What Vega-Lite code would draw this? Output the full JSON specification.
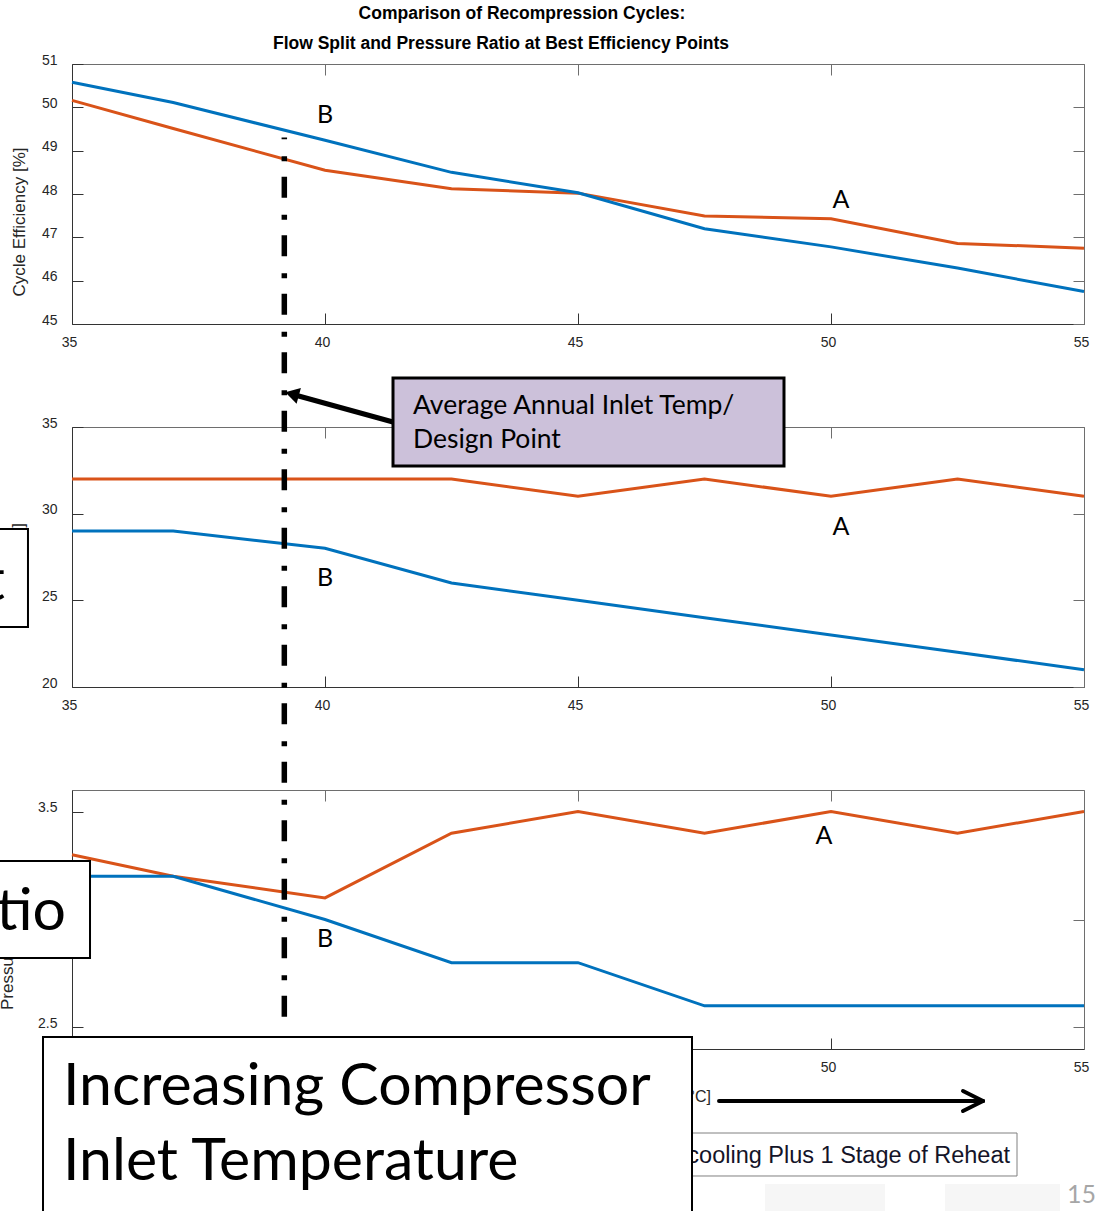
{
  "$schema": "https://vega.github.io/schema/vega-lite/v6.json",
  "width": 1096,
  "height": 1211,
  "padding": 0,
  "autosize": "none",
  "background": "white",
  "config": {
    "view": {"stroke": null},
    "axis": {
      "grid": false,
      "labelFont": "Liberation Sans",
      "labelFontSize": 14,
      "labelColor": "#262626",
      "labelFlush": false,
      "labelOverlap": false,
      "domainColor": "#333",
      "tickColor": "#333",
      "domainWidth": 1,
      "tickWidth": 1,
      "tickSize": -11
    }
  },
  "datasets": {
    "curves": [
      {"panel": 1, "cycle": "A", "temp": 35, "value": 50.16},
      {"panel": 1, "cycle": "A", "temp": 37, "value": 49.51},
      {"panel": 1, "cycle": "A", "temp": 40, "value": 48.55},
      {"panel": 1, "cycle": "A", "temp": 42.5, "value": 48.12},
      {"panel": 1, "cycle": "A", "temp": 45, "value": 48.02},
      {"panel": 1, "cycle": "A", "temp": 47.5, "value": 47.49},
      {"panel": 1, "cycle": "A", "temp": 50, "value": 47.43},
      {"panel": 1, "cycle": "A", "temp": 52.5, "value": 46.86},
      {"panel": 1, "cycle": "A", "temp": 55, "value": 46.75},
      {"panel": 1, "cycle": "B", "temp": 35, "value": 50.58},
      {"panel": 1, "cycle": "B", "temp": 37, "value": 50.11},
      {"panel": 1, "cycle": "B", "temp": 40, "value": 49.24},
      {"panel": 1, "cycle": "B", "temp": 42.5, "value": 48.5},
      {"panel": 1, "cycle": "B", "temp": 45, "value": 48.03},
      {"panel": 1, "cycle": "B", "temp": 47.5, "value": 47.2},
      {"panel": 1, "cycle": "B", "temp": 50, "value": 46.78},
      {"panel": 1, "cycle": "B", "temp": 52.5, "value": 46.29},
      {"panel": 1, "cycle": "B", "temp": 55, "value": 45.75},
      {"panel": 2, "cycle": "A", "temp": 35, "value": 32},
      {"panel": 2, "cycle": "A", "temp": 37, "value": 32},
      {"panel": 2, "cycle": "A", "temp": 40, "value": 32},
      {"panel": 2, "cycle": "A", "temp": 42.5, "value": 32},
      {"panel": 2, "cycle": "A", "temp": 45, "value": 31},
      {"panel": 2, "cycle": "A", "temp": 47.5, "value": 32},
      {"panel": 2, "cycle": "A", "temp": 50, "value": 31},
      {"panel": 2, "cycle": "A", "temp": 52.5, "value": 32},
      {"panel": 2, "cycle": "A", "temp": 55, "value": 31},
      {"panel": 2, "cycle": "B", "temp": 35, "value": 29},
      {"panel": 2, "cycle": "B", "temp": 37, "value": 29},
      {"panel": 2, "cycle": "B", "temp": 40, "value": 28},
      {"panel": 2, "cycle": "B", "temp": 42.5, "value": 26},
      {"panel": 2, "cycle": "B", "temp": 45, "value": 25},
      {"panel": 2, "cycle": "B", "temp": 47.5, "value": 24},
      {"panel": 2, "cycle": "B", "temp": 50, "value": 23},
      {"panel": 2, "cycle": "B", "temp": 52.5, "value": 22},
      {"panel": 2, "cycle": "B", "temp": 55, "value": 21},
      {"panel": 3, "cycle": "A", "temp": 35, "value": 3.3},
      {"panel": 3, "cycle": "A", "temp": 37, "value": 3.2},
      {"panel": 3, "cycle": "A", "temp": 40, "value": 3.1},
      {"panel": 3, "cycle": "A", "temp": 42.5, "value": 3.4},
      {"panel": 3, "cycle": "A", "temp": 45, "value": 3.5},
      {"panel": 3, "cycle": "A", "temp": 47.5, "value": 3.4},
      {"panel": 3, "cycle": "A", "temp": 50, "value": 3.5},
      {"panel": 3, "cycle": "A", "temp": 52.5, "value": 3.4},
      {"panel": 3, "cycle": "A", "temp": 55, "value": 3.5},
      {"panel": 3, "cycle": "B", "temp": 35, "value": 3.2},
      {"panel": 3, "cycle": "B", "temp": 37, "value": 3.2},
      {"panel": 3, "cycle": "B", "temp": 40, "value": 3.0},
      {"panel": 3, "cycle": "B", "temp": 42.5, "value": 2.8},
      {"panel": 3, "cycle": "B", "temp": 45, "value": 2.8},
      {"panel": 3, "cycle": "B", "temp": 47.5, "value": 2.6},
      {"panel": 3, "cycle": "B", "temp": 50, "value": 2.6},
      {"panel": 3, "cycle": "B", "temp": 52.5, "value": 2.6},
      {"panel": 3, "cycle": "B", "temp": 55, "value": 2.6}
    ]
  },
  "resolve": {
    "scale": {"x": "independent", "y": "independent"},
    "axis": {"x": "independent", "y": "independent"}
  },
  "layer": [
    {
      "data": {"name": "curves"},
      "transform": [{"filter": "datum.panel === 1"}],
      "mark": {"type": "point", "opacity": 0},
      "encoding": {
        "x": {"field": "temp", "type": "quantitative",
          "scale": {"domain": [35, 55], "range": [72, 1084], "nice": false, "zero": false},
          "axis": {"orient": "top", "offset": -64, "values": [35, 40, 45, 50, 55], "labels": false, "title": null, "domainColor": "#6e6e6e", "tickColor": "#6e6e6e"}},
        "y": {"field": "value", "type": "quantitative",
          "scale": {"domain": [45, 51], "range": [324, 64], "nice": false, "zero": false},
          "axis": {"orient": "right", "offset": -12, "values": [45, 46, 47, 48, 49, 50, 51], "labels": false, "title": null, "domainColor": "#6e6e6e", "tickColor": "#6e6e6e"}}
      }
    },
    {
      "data": {"name": "curves"},
      "transform": [{"filter": "datum.panel === 2"}],
      "mark": {"type": "point", "opacity": 0},
      "encoding": {
        "x": {"field": "temp", "type": "quantitative",
          "scale": {"domain": [35, 55], "range": [72, 1084], "nice": false, "zero": false},
          "axis": {"orient": "top", "offset": -427, "values": [35, 40, 45, 50, 55], "labels": false, "title": null, "domainColor": "#6e6e6e", "tickColor": "#6e6e6e"}},
        "y": {"field": "value", "type": "quantitative",
          "scale": {"domain": [20, 35], "range": [687, 427], "nice": false, "zero": false},
          "axis": {"orient": "right", "offset": -12, "values": [20, 25, 30, 35], "labels": false, "title": null, "domainColor": "#6e6e6e", "tickColor": "#6e6e6e"}}
      }
    },
    {
      "data": {"name": "curves"},
      "transform": [{"filter": "datum.panel === 3"}],
      "mark": {"type": "point", "opacity": 0},
      "encoding": {
        "x": {"field": "temp", "type": "quantitative",
          "scale": {"domain": [35, 55], "range": [72, 1084], "nice": false, "zero": false},
          "axis": {"orient": "top", "offset": -790, "values": [35, 40, 45, 50, 55], "labels": false, "title": null, "domainColor": "#6e6e6e", "tickColor": "#6e6e6e"}},
        "y": {"field": "value", "type": "quantitative",
          "scale": {"domain": [2.4, 3.6], "range": [1049, 790], "nice": false, "zero": false},
          "axis": {"orient": "right", "offset": -12, "values": [2.5, 3, 3.5], "labels": false, "title": null, "domainColor": "#6e6e6e", "tickColor": "#6e6e6e"}}
      }
    },
    {
      "data": {"name": "curves"},
      "transform": [{"filter": "datum.panel === 1"}],
      "mark": {"type": "line", "strokeWidth": 3},
      "encoding": {
        "x": {"field": "temp", "type": "quantitative",
          "scale": {"domain": [35, 55], "range": [72, 1084], "nice": false, "zero": false},
          "axis": {"orient": "bottom", "offset": -887, "values": [35, 40, 45, 50, 55], "title": null, "labelPadding": 22, "labelBaseline": "top", "labelOffset": -3}},
        "y": {"field": "value", "type": "quantitative",
          "scale": {"domain": [45, 51], "range": [324, 64], "nice": false, "zero": false},
          "axis": {"orient": "left", "offset": -72, "values": [45, 46, 47, 48, 49, 50, 51], "title": null, "labelPadding": 26, "labelOffset": -4}},
        "color": {"field": "cycle", "type": "nominal", "scale": {"domain": ["A", "B"], "range": ["#D95319", "#0072BD"]}, "legend": null}
      }
    },
    {
      "layer": [
        {
          "data": {"values": [
            {"t": 40.0, "v": 49.823, "label": "B"},
            {"t": 50.198, "v": 47.862, "label": "A"}
          ]},
          "mark": {"type": "text", "font": "Lato", "fontSize": 25, "color": "#000", "align": "center", "baseline": "middle"},
          "encoding": {
            "x": {"field": "t", "type": "quantitative", "axis": null, "scale": {"domain": [35, 55], "range": [72, 1084], "nice": false, "zero": false}},
            "y": {"field": "v", "type": "quantitative", "axis": null, "scale": {"domain": [45, 51], "range": [324, 64], "nice": false, "zero": false}},
            "text": {"field": "label"}
          }
        },
        {
          "data": {"values": [
            {"t": 43.893, "v": 52.16, "label": "Comparison of Recompression Cycles:"},
            {"t": 43.478, "v": 51.4515, "label": "Flow Split and Pressure Ratio at Best Efficiency Points"}
          ]},
          "mark": {"type": "text", "font": "Liberation Sans", "fontWeight": "bold", "fontSize": 17.5, "color": "#000", "align": "center", "baseline": "middle"},
          "encoding": {
            "x": {"field": "t", "type": "quantitative", "axis": null},
            "y": {"field": "v", "type": "quantitative", "axis": null},
            "text": {"field": "label"}
          }
        },
        {
          "data": {"values": [
            {"t": 33.972, "v": 47.354, "label": "Cycle Efficiency [%]"}
          ]},
          "mark": {"type": "text", "font": "Liberation Sans", "fontSize": 17, "color": "#262626", "align": "center", "baseline": "middle", "angle": 270},
          "encoding": {
            "x": {"field": "t", "type": "quantitative", "axis": null},
            "y": {"field": "v", "type": "quantitative", "axis": null},
            "text": {"field": "label"}
          }
        }
      ]
    },
    {
      "data": {"name": "curves"},
      "transform": [{"filter": "datum.panel === 2"}],
      "mark": {"type": "line", "strokeWidth": 3},
      "encoding": {
        "x": {"field": "temp", "type": "quantitative",
          "scale": {"domain": [35, 55], "range": [72, 1084], "nice": false, "zero": false},
          "axis": {"orient": "bottom", "offset": -524, "values": [35, 40, 45, 50, 55], "title": null, "labelPadding": 22, "labelBaseline": "top", "labelOffset": -3}},
        "y": {"field": "value", "type": "quantitative",
          "scale": {"domain": [20, 35], "range": [687, 427], "nice": false, "zero": false},
          "axis": {"orient": "left", "offset": -72, "values": [20, 25, 30, 35], "title": null, "labelPadding": 26, "labelOffset": -4}},
        "color": {"field": "cycle", "type": "nominal", "scale": {"domain": ["A", "B"], "range": ["#D95319", "#0072BD"]}, "legend": null}
      }
    },
    {
      "layer": [
        {
          "data": {"values": [
            {"t": 50.198, "v": 29.231, "label": "A"},
            {"t": 40.0, "v": 26.288, "label": "B"}
          ]},
          "mark": {"type": "text", "font": "Lato", "fontSize": 25, "color": "#000", "align": "center", "baseline": "middle"},
          "encoding": {
            "x": {"field": "t", "type": "quantitative", "axis": null, "scale": {"domain": [35, 55], "range": [72, 1084], "nice": false, "zero": false}},
            "y": {"field": "v", "type": "quantitative", "axis": null, "scale": {"domain": [20, 35], "range": [687, 427], "nice": false, "zero": false}},
            "text": {"field": "label"}
          }
        },
        {
          "data": {"values": [
            {"t": 34.13, "v": 29.46, "label": "Flow Split [%]"}
          ]},
          "mark": {"type": "text", "font": "Liberation Sans", "fontSize": 17, "color": "#262626", "align": "right", "baseline": "bottom", "angle": 270},
          "encoding": {
            "x": {"field": "t", "type": "quantitative", "axis": null},
            "y": {"field": "v", "type": "quantitative", "axis": null},
            "text": {"field": "label"}
          }
        },
        {
          "data": {"values": [
            {"t": 33.538, "t2": 34.13, "v": 29.115, "v2": 23.462}
          ]},
          "mark": {"type": "rect", "fill": "white", "stroke": "#000", "strokeWidth": 2},
          "encoding": {
            "x": {"field": "t", "type": "quantitative", "axis": null},
            "x2": {"field": "t2"},
            "y": {"field": "v", "type": "quantitative", "axis": null},
            "y2": {"field": "v2"}
          }
        },
        {
          "data": {"values": [
            {"t": 33.676, "v": 25.019, "label": "t"}
          ]},
          "mark": {"type": "text", "font": "Lato", "fontSize": 59, "color": "#000", "align": "right", "baseline": "alphabetic"},
          "encoding": {
            "x": {"field": "t", "type": "quantitative", "axis": null},
            "y": {"field": "v", "type": "quantitative", "axis": null},
            "text": {"field": "label"}
          }
        },
        {
          "data": {"values": [
            {"t": 41.344, "v": 35.288, "t2": 39.407, "v2": 36.846}
          ]},
          "mark": {"type": "rule", "color": "#000", "strokeWidth": 5},
          "encoding": {
            "x": {"field": "t", "type": "quantitative", "axis": null},
            "x2": {"field": "t2"},
            "y": {"field": "v", "type": "quantitative", "axis": null},
            "y2": {"field": "v2"}
          }
        },
        {
          "data": {"values": [
            {"t": 39.348, "v": 36.904}
          ]},
          "mark": {"type": "point", "shape": "triangle-up", "filled": true, "color": "#000", "opacity": 1, "size": 260, "angle": 285.5},
          "encoding": {
            "x": {"field": "t", "type": "quantitative", "axis": null},
            "y": {"field": "v", "type": "quantitative", "axis": null}
          }
        },
        {
          "data": {"values": [
            {"t": 41.344, "t2": 49.071, "v": 37.827, "v2": 32.75}
          ]},
          "mark": {"type": "rect", "fill": "#ccc1da", "stroke": "#000", "strokeWidth": 3},
          "encoding": {
            "x": {"field": "t", "type": "quantitative", "axis": null},
            "x2": {"field": "t2"},
            "y": {"field": "v", "type": "quantitative", "axis": null},
            "y2": {"field": "v2"}
          }
        },
        {
          "data": {"values": [
            {"t": 41.739, "v": 36.212, "label": "Average Annual Inlet Temp/"},
            {"t": 41.739, "v": 34.25, "label": "Design Point"}
          ]},
          "mark": {"type": "text", "font": "Lato", "fontSize": 26.5, "color": "#000", "align": "left", "baseline": "middle"},
          "encoding": {
            "x": {"field": "t", "type": "quantitative", "axis": null},
            "y": {"field": "v", "type": "quantitative", "axis": null},
            "text": {"field": "label"}
          }
        }
      ]
    },
    {
      "data": {"name": "curves"},
      "transform": [{"filter": "datum.panel === 3"}],
      "mark": {"type": "line", "strokeWidth": 3},
      "encoding": {
        "x": {"field": "temp", "type": "quantitative",
          "scale": {"domain": [35, 55], "range": [72, 1084], "nice": false, "zero": false},
          "axis": {"orient": "bottom", "offset": -162, "values": [35, 40, 45, 50, 55], "title": null, "labelPadding": 22, "labelBaseline": "top", "labelOffset": -3}},
        "y": {"field": "value", "type": "quantitative",
          "scale": {"domain": [2.4, 3.6], "range": [1049, 790], "nice": false, "zero": false},
          "axis": {"orient": "left", "offset": -72, "values": [2.5, 3, 3.5], "format": ".1~f", "title": null, "labelPadding": 26, "labelOffset": -4}},
        "color": {"field": "cycle", "type": "nominal", "scale": {"domain": ["A", "B"], "range": ["#D95319", "#0072BD"]}, "legend": null}
      }
    },
    {
      "layer": [
        {
          "data": {"values": [
            {"t": 49.862, "v": 3.3869, "label": "A"},
            {"t": 40.0, "v": 2.9097, "label": "B"}
          ]},
          "mark": {"type": "text", "font": "Lato", "fontSize": 25, "color": "#000", "align": "center", "baseline": "middle"},
          "encoding": {
            "x": {"field": "t", "type": "quantitative", "axis": null, "scale": {"domain": [35, 55], "range": [72, 1084], "nice": false, "zero": false}},
            "y": {"field": "v", "type": "quantitative", "axis": null, "scale": {"domain": [2.4, 3.6], "range": [1049, 790], "nice": false, "zero": false}},
            "text": {"field": "label"}
          }
        },
        {
          "data": {"values": [
            {"t": 33.913, "v": 2.5807, "label": "Pressure Ratio"}
          ]},
          "mark": {"type": "text", "font": "Liberation Sans", "fontSize": 17, "color": "#262626", "align": "left", "baseline": "bottom", "angle": 270},
          "encoding": {
            "x": {"field": "t", "type": "quantitative", "axis": null},
            "y": {"field": "v", "type": "quantitative", "axis": null},
            "text": {"field": "label"}
          }
        },
        {
          "data": {"values": [
            {"t": 33.538, "t2": 35.356, "v": 3.271, "v2": 2.8216}
          ]},
          "mark": {"type": "rect", "fill": "white", "stroke": "#000", "strokeWidth": 2},
          "encoding": {
            "x": {"field": "t", "type": "quantitative", "axis": null},
            "x2": {"field": "t2"},
            "y": {"field": "v", "type": "quantitative", "axis": null},
            "y2": {"field": "v2"}
          }
        },
        {
          "data": {"values": [
            {"t": 34.881, "v": 2.9514, "label": "tio"}
          ]},
          "mark": {"type": "text", "font": "Lato", "fontSize": 59, "color": "#000", "align": "right", "baseline": "alphabetic"},
          "encoding": {
            "x": {"field": "t", "type": "quantitative", "axis": null},
            "y": {"field": "v", "type": "quantitative", "axis": null},
            "text": {"field": "label"}
          }
        },
        {
          "data": {"values": [
            {"t": 47.628, "v": 2.1776, "label": "Compressor Inlet Temperature [°C]"}
          ]},
          "mark": {"type": "text", "font": "Liberation Sans", "fontSize": 16, "color": "#262626", "align": "right", "baseline": "middle"},
          "encoding": {
            "x": {"field": "t", "type": "quantitative", "axis": null},
            "y": {"field": "v", "type": "quantitative", "axis": null},
            "text": {"field": "label"}
          }
        },
        {
          "data": {"values": [
            {"t": 47.787, "v": 2.159, "t2": 53.004, "v2": 2.159},
            {"t": 52.609, "v": 2.2054, "t2": 53.004, "v2": 2.159},
            {"t": 52.609, "v": 2.1127, "t2": 53.004, "v2": 2.159}
          ]},
          "mark": {"type": "rule", "color": "#000", "strokeWidth": 4, "strokeCap": "round"},
          "encoding": {
            "x": {"field": "t", "type": "quantitative", "axis": null},
            "x2": {"field": "t2"},
            "y": {"field": "v", "type": "quantitative", "axis": null},
            "y2": {"field": "v2"}
          }
        },
        {
          "data": {"values": [
            {"t": 48.696, "t2": 51.067, "v": 1.7745, "v2": 1.6494},
            {"t": 52.253, "t2": 54.526, "v": 1.7745, "v2": 1.6494}
          ]},
          "mark": {"type": "rect", "fill": "#f6f6f6"},
          "encoding": {
            "x": {"field": "t", "type": "quantitative", "axis": null},
            "x2": {"field": "t2"},
            "y": {"field": "v", "type": "quantitative", "axis": null},
            "y2": {"field": "v2"}
          }
        },
        {
          "data": {"values": [
            {"t": 45.435, "t2": 53.676, "v": 2.0108, "v2": 1.8116}
          ]},
          "mark": {"type": "rect", "fill": "white", "stroke": "#808080", "strokeWidth": 1},
          "encoding": {
            "x": {"field": "t", "type": "quantitative", "axis": null},
            "x2": {"field": "t2"},
            "y": {"field": "v", "type": "quantitative", "axis": null},
            "y2": {"field": "v2"}
          }
        },
        {
          "data": {"values": [
            {"t": 53.538, "v": 1.9042, "label": "Intercooling Plus 1 Stage of Reheat"}
          ]},
          "mark": {"type": "text", "font": "Liberation Sans", "fontSize": 23.5, "color": "#141428", "align": "right", "baseline": "middle"},
          "encoding": {
            "x": {"field": "t", "type": "quantitative", "axis": null},
            "y": {"field": "v", "type": "quantitative", "axis": null},
            "text": {"field": "label"}
          }
        },
        {
          "data": {"values": [
            {"t": 34.427, "t2": 47.253, "v": 2.4556, "v2": 1.5614}
          ]},
          "mark": {"type": "rect", "fill": "white", "stroke": "#000", "strokeWidth": 2},
          "encoding": {
            "x": {"field": "t", "type": "quantitative", "axis": null},
            "x2": {"field": "t2"},
            "y": {"field": "v", "type": "quantitative", "axis": null},
            "y2": {"field": "v2"}
          }
        },
        {
          "data": {"values": [
            {"t": 34.822, "v": 2.1405, "label": "Increasing Compressor"},
            {"t": 34.822, "v": 1.793, "label": "Inlet Temperature"}
          ]},
          "mark": {"type": "text", "font": "Lato", "fontSize": 59, "color": "#000", "align": "left", "baseline": "alphabetic"},
          "encoding": {
            "x": {"field": "t", "type": "quantitative", "axis": null},
            "y": {"field": "v", "type": "quantitative", "axis": null},
            "text": {"field": "label"}
          }
        },
        {
          "data": {"values": [
            {"t": 55.237, "v": 1.7235, "label": "15"}
          ]},
          "mark": {"type": "text", "font": "Lato", "fontSize": 25, "color": "#a6a6a6", "align": "right", "baseline": "middle"},
          "encoding": {
            "x": {"field": "t", "type": "quantitative", "axis": null},
            "y": {"field": "v", "type": "quantitative", "axis": null},
            "text": {"field": "label"}
          }
        },
        {
          "data": {"values": [
            {"t": 39.196, "v": 6.6232, "v2": 2.5436}
          ]},
          "mark": {"type": "rule", "color": "#000", "strokeWidth": 5.5, "strokeDash": [21, 17, 5, 15.5], "strokeDashOffset": 19.3},
          "encoding": {
            "x": {"field": "t", "type": "quantitative", "axis": null},
            "y": {"field": "v", "type": "quantitative", "axis": null},
            "y2": {"field": "v2"}
          }
        }
      ]
    }
  ]
}
